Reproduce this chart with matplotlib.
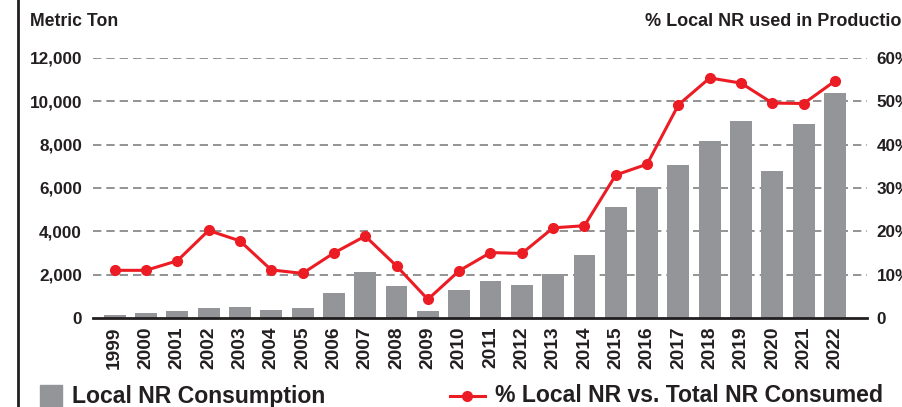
import numpy as np
import matplotlib.pyplot as plt
from matplotlib.patches import Rectangle
from matplotlib.lines import Line2D

plt.rcParams['font.family'] = ['Liberation Sans', 'DejaVu Sans']
plt.rcParams['font.weight'] = 'bold'

years = [str(y) for y in range(1999, 2023)]
consumption = [140, 230, 320, 460, 510, 370, 460, 1150, 2130, 1480, 320, 1300,
               1720, 1530, 2030, 2900, 5120, 6040, 7060, 8170, 9090, 6780, 8950, 10380]
pct_local = [11.0, 11.0, 13.2, 20.2, 17.8, 11.1, 10.3, 15.0, 18.9, 12.0, 4.3, 10.9,
             15.1, 14.9, 20.8, 21.3, 33.0, 35.5, 49.2, 55.4, 54.2, 49.6, 49.5, 54.7]
left_ticks = [0, 2000, 4000, 6000, 8000, 10000, 12000]
left_labels = ['0', '2,000', '4,000', '6,000', '8,000', '10,000', '12,000']
right_ticks = [0, 10, 20, 30, 40, 50, 60]
right_labels = ['0', '10%', '20%', '30%', '40%', '50%', '60%']

bar_col = '#939598'
red = '#ec1c24'
txt = '#231f20'
W, H = 903, 407

fig = plt.figure(figsize=(W / 100, H / 100), dpi=100)
ax = fig.add_axes([93 / W, (H - 318) / H, (867 - 93) / W, (318 - 58) / H])

x = np.arange(len(years))
for t in left_ticks[1:]:
    ax.axhline(t, color='#808080', lw=1.2, ls=(0, (5, 3)), zorder=0)
ax.bar(x, consumption, width=0.7, color=bar_col, zorder=2)
ax.set_xlim(-0.69, 24.02)
ax.set_ylim(0, 12000)
ax.set_yticks(left_ticks)
ax.set_yticklabels(left_labels)
ax.set_xticks(x)
ax.set_xticklabels(years, rotation=90)
ax.tick_params(axis='y', length=0, pad=8, labelsize=12.3, labelcolor=txt)
ax.tick_params(axis='x', length=0, pad=6, labelsize=13.8, labelcolor=txt)
for s in ['top', 'right', 'left']:
    ax.spines[s].set_visible(False)
ax.spines['bottom'].set_linewidth(2)
ax.spines['bottom'].set_color(txt)
ax.spines['bottom'].set_zorder(5)

ax2 = ax.twinx()
ax2.plot(x, pct_local, color=red, lw=2.2, marker='o', ms=7, zorder=4)
ax2.set_ylim(0, 60)
ax2.set_yticks(right_ticks)
ax2.set_yticklabels(right_labels)
ax2.tick_params(axis='y', length=0, pad=7, labelsize=12.3, labelcolor=txt)
for s in ax2.spines.values():
    s.set_visible(False)

fig.text(30 / W, 1 - 22 / H, 'Metric Ton', fontsize=12.7, color=txt, va='center', ha='left')
fig.text(645 / W, 1 - 22 / H, '% Local NR used in Production', fontsize=13, color=txt,
         va='center', ha='left')

# left border
fig.add_artist(Line2D([18 / W, 18 / W], [0, 1], color=txt, lw=2))

# legend
fig.add_artist(Rectangle((40 / W, 0), 22 / W, 22 / H, color=bar_col))
fig.text(72 / W, 1 - 396 / H, 'Local NR Consumption', fontsize=16.6, color=txt,
         va='center', ha='left')
fig.add_artist(Line2D([450 / W, 485 / W], [1 - 396 / H] * 2, color=red, lw=2.2))
fig.add_artist(Line2D([467 / W], [1 - 396 / H], color=red, marker='o', ms=7))
fig.text(495 / W, 1 - 396 / H, '% Local NR vs. Total NR Consumed', fontsize=16.6, color=txt,
         va='center', ha='left')

fig.savefig('out.png', dpi=100)
